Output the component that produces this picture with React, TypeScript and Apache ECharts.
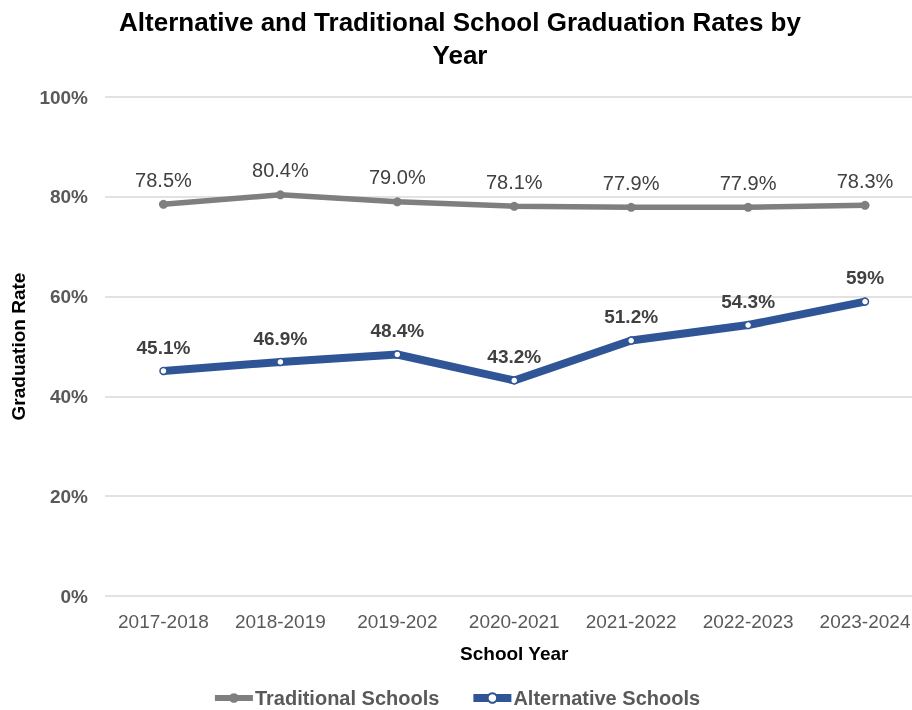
import React, { useEffect, useRef } from "react";
import * as echarts from "echarts";

const categories = ["2017-2018", "2018-2019", "2019-202", "2020-2021", "2021-2022", "2022-2023", "2023-2024"];
const traditional = [78.5, 80.4, 79.0, 78.1, 77.9, 77.9, 78.3];
const traditionalLabels = ["78.5%", "80.4%", "79.0%", "78.1%", "77.9%", "77.9%", "78.3%"];
const alternative = [45.1, 46.9, 48.4, 43.2, 51.2, 54.3, 59];
const alternativeLabels = ["45.1%", "46.9%", "48.4%", "43.2%", "51.2%", "54.3%", "59%"];

export default function App() {
  const ref = useRef<HTMLDivElement>(null);
  useEffect(() => {
    if (!ref.current) return;
    const chart = echarts.init(ref.current, undefined, { renderer: "svg" });
    const font = "Liberation Sans, Arial, sans-serif";
    chart.setOption({
      animation: false,
      textStyle: { fontFamily: font },
      title: {
        text: "Alternative and Traditional School Graduation Rates by\nYear",
        left: 455,
        textAlign: "center",
        top: 0,
        textStyle: { fontSize: 26, fontWeight: "bold", color: "#000", lineHeight: 33, fontFamily: font },
      },
      legend: {
        bottom: 2,
        padding: 0,
        left: "center",
        orient: "horizontal",
        itemWidth: 38,
        itemHeight: 12,
        itemGap: 30,
        textStyle: { fontSize: 20, fontWeight: "bold", color: "#595959", fontFamily: font, padding: [0, 0, 0, -3] },
        data: [
          { name: "Traditional Schools", lineStyle: { width: 6 } },
          { name: "Alternative Schools", lineStyle: { width: 8 } },
        ],
      },
      grid: { left: 105, right: -11.5, top: 97, bottom: 114, containLabel: false, outerBoundsMode: "none" },
      xAxis: {
        type: "category",
        data: categories,
        boundaryGap: true,
        name: "School Year",
        nameLocation: "middle",
        nameGap: 48,
        nameTextStyle: { fontSize: 19, fontWeight: "bold", color: "#000", fontFamily: font },
        axisLine: { show: false },
        axisTick: { show: false },
        axisLabel: { fontSize: 19, color: "#595959", margin: 16, fontFamily: font, interval: 0, hideOverlap: false },
      },
      yAxis: {
        type: "value",
        min: 0,
        max: 100,
        interval: 20,
        name: "Graduation Rate",
        nameLocation: "middle",
        nameGap: 77,
        nameRotate: 90,
        nameTextStyle: { fontSize: 19, fontWeight: "bold", color: "#000", fontFamily: font },
        axisLabel: { formatter: "{value}%", fontSize: 19, fontWeight: "bold", color: "#595959", margin: 17, fontFamily: font },
        splitLine: { lineStyle: { color: "#d9d9d9", width: 1.5 } },
        axisLine: { show: false },
        axisTick: { show: false },
      },
      series: [
        {
          name: "Traditional Schools",
          type: "line",
          data: traditional,
          symbol: "circle",
          symbolSize: 9,
          itemStyle: { color: "#7f7f7f" },
          lineStyle: { color: "#7f7f7f", width: 5.5 },
          label: {
            show: true,
            position: "top",
            distance: 10,
            fontSize: 20,
            color: "#404040",
            fontFamily: font,
            formatter: (p: any) => traditionalLabels[p.dataIndex],
          },
        },
        {
          name: "Alternative Schools",
          type: "line",
          data: alternative,
          symbol: "circle",
          symbolSize: 7,
          itemStyle: { color: "#ffffff", borderColor: "#2f5597", borderWidth: 1.5 },
          lineStyle: { color: "#2f5597", width: 8 },
          label: {
            show: true,
            position: "top",
            distance: 10,
            fontSize: 19,
            fontWeight: "bold",
            color: "#404040",
            fontFamily: font,
            formatter: (p: any) => alternativeLabels[p.dataIndex],
          },
        },
      ],
    });
    return () => chart.dispose();
  }, []);
  return <div ref={ref} style={{ position: "fixed", left: 0, top: 0, width: 912, height: 710 }} />;
}
